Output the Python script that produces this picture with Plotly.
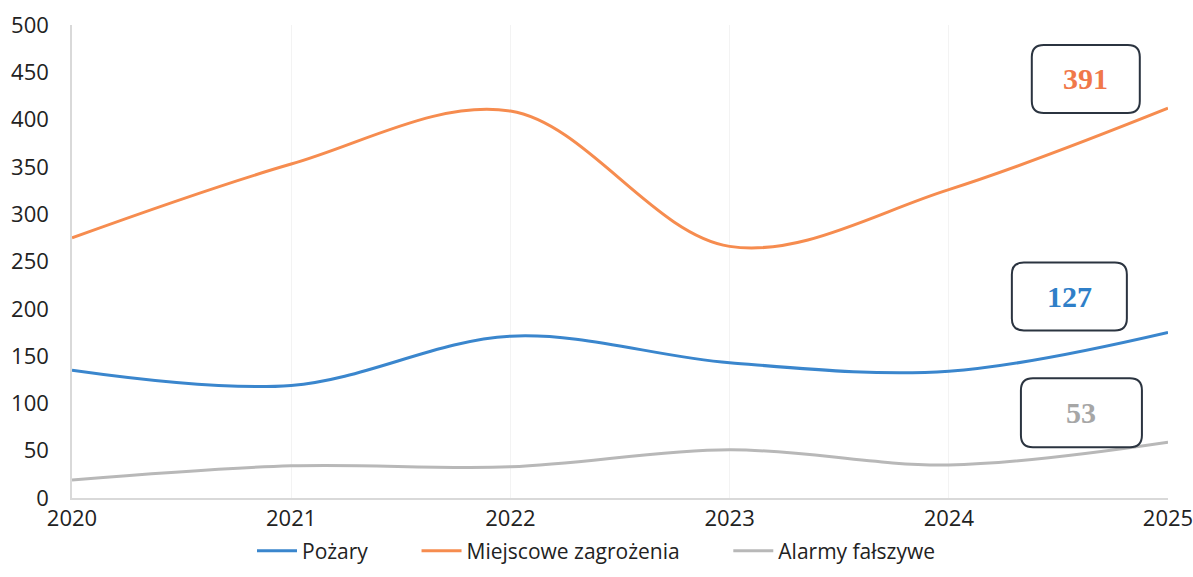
import plotly.graph_objects as go

# data
years = [2020, 2021, 2022, 2023, 2024, 2025]
pozary = [135, 119, 171, 143, 134, 175]
miejscowe = [275, 353, 409, 266, 326, 412]
alarmy = [19, 34, 33, 51, 35, 59]

series_names = ['Pożary', 'Miejscowe zagrożenia', 'Alarmy fałszywe']
series_colors = ['#3a86cd', '#f68c4f', '#b8b8b8']

# callout labels: text, colour, centre (x in years, y in units)
callout_text = ['391', '127', '53']
callout_color = ['#f0784a', '#2f7fc8', '#a6a6a6']
callout_x = [2024.625, 2024.55, 2024.605]
callout_y = [443, 213, 90]
callout_w = [108, 115, 121]   # px
callout_h = [68, 68, 69]      # px

W, H = 1193, 577
M = dict(l=72, r=25, t=25, b=79, autoexpand=False)
PX_X = (W - M['l'] - M['r']) / (years[-1] - years[0])
PX_Y = (H - M['t'] - M['b']) / 500


def rounded_box(cx, cy, w, h, r=12):
    """rounded rectangle path in data coords, sizes given in px"""
    hw, hh = w / 2 / PX_X, h / 2 / PX_Y
    rx, ry = r / PX_X, r / PX_Y
    x0, x1, y0, y1 = cx - hw, cx + hw, cy - hh, cy + hh
    return (f"M{x0 + rx},{y1} L{x1 - rx},{y1} Q{x1},{y1} {x1},{y1 - ry} "
            f"L{x1},{y0 + ry} Q{x1},{y0} {x1 - rx},{y0} L{x0 + rx},{y0} "
            f"Q{x0},{y0} {x0},{y0 + ry} L{x0},{y1 - ry} Q{x0},{y1} {x0 + rx},{y1} Z")


# extra spacing after legend entries, as in the original
pad = ['\u00a0' * 8, '\u00a0' * 8, '']

fig = go.Figure()
for name, vals, col, p in zip(series_names, [pozary, miejscowe, alarmy], series_colors, pad):
    fig.add_trace(go.Scatter(x=years, y=vals, name=name + p, mode='lines',
                             line=dict(color=col, width=3, shape='spline', smoothing=1)))

for txt, col, cx, cy, w, h in zip(callout_text, callout_color, callout_x, callout_y, callout_w, callout_h):
    fig.add_shape(type='path', path=rounded_box(cx, cy, w, h), xref='x', yref='y',
                  line=dict(color='#2b3440', width=2), fillcolor='white', layer='above')
    fig.add_annotation(x=cx, y=cy, text=f'<b>{txt}</b>', showarrow=False,
                       font=dict(family='Liberation Serif', size=30, color=col))

fig.update_layout(
    width=W, height=H, margin=M,
    plot_bgcolor='white', paper_bgcolor='white',
    font=dict(family='Open Sans', size=21, color='#222222'),
    legend=dict(orientation='h', xref='container', x=0.5, xanchor='center',
                yref='container', y=0.045, yanchor='middle', bgcolor='rgba(0,0,0,0)',
                font=dict(size=21), itemwidth=40, tracegroupgap=0),
    showlegend=True,
)
fig.update_xaxes(range=[years[0], years[-1]], tickvals=years, showgrid=True,
                 gridcolor='#f3f3f3', showline=True, linecolor='#d9d9d9', linewidth=1.5,
                 zeroline=False, ticks='', ticklabelstandoff=0, tickfont=dict(size=22),
                 ticklabeloverflow='allow')
fig.update_yaxes(range=[0, 500], dtick=50, showgrid=False, showline=True,
                 linecolor='#d9d9d9', linewidth=1.5, zeroline=False, ticks='',
                 ticklabelstandoff=17, tickfont=dict(size=22))

# drop the default page margin so the figure fills the window
fig.write_html("out.html", config={'displayModeBar': False},
               post_script="document.body.style.margin = '0';")
